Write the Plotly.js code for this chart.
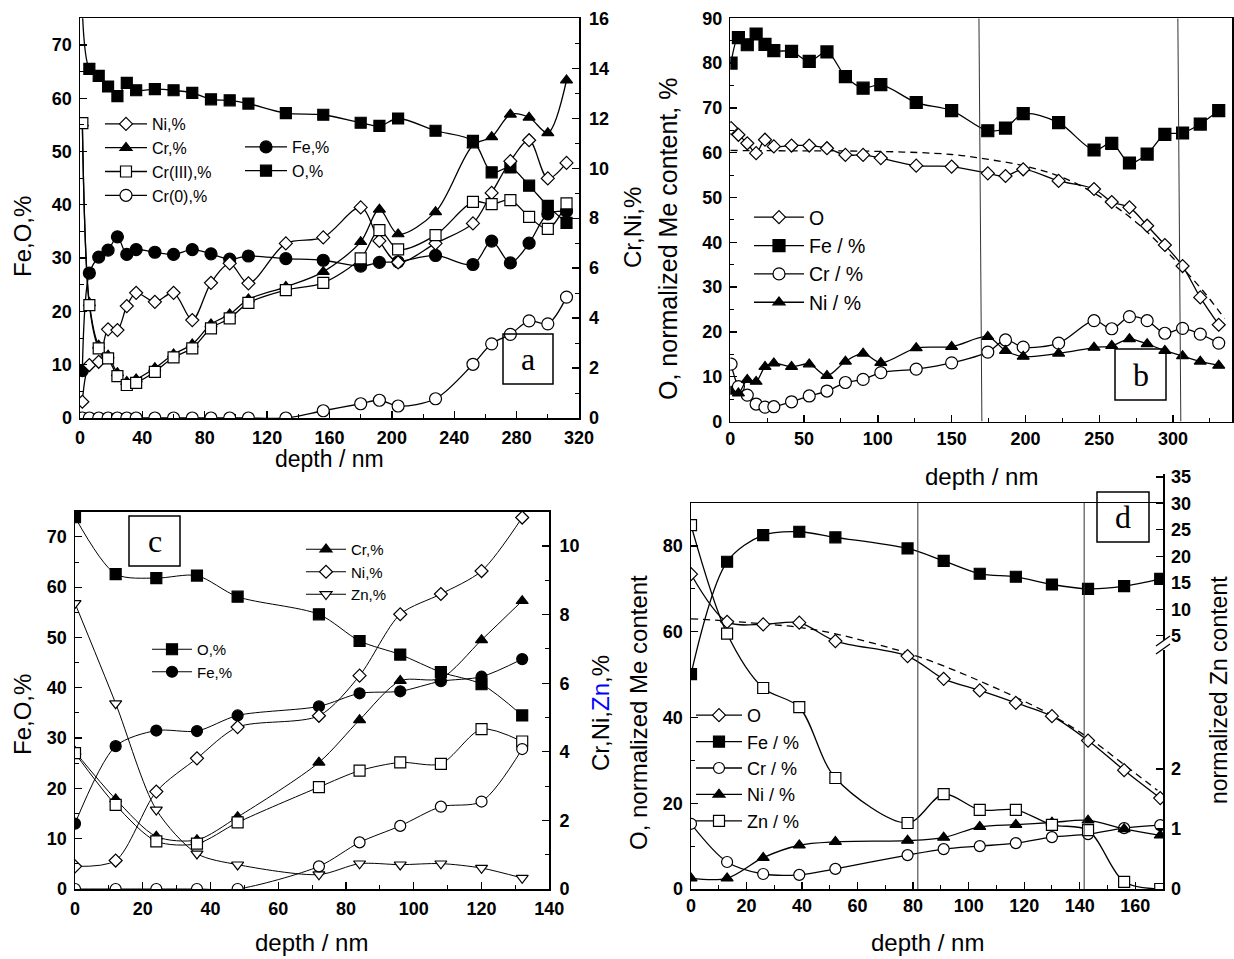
<!DOCTYPE html>
<html>
<head>
<meta charset="utf-8">
<script src="https://cdn.plot.ly/plotly-3.0.1.min.js"></script>
<style>html,body{margin:0;padding:0;background:#fff;}#chart{width:1234px;height:959px;}</style>
</head>
<body>
<div id="chart"></div>
<script>
// ---------- Panel a ----------
const aDepth = [1.5, 6, 12, 18, 24, 30, 36, 48, 60, 72, 84, 96, 108, 132, 156, 180, 192, 204, 228, 252, 264, 276, 288, 300, 312];
const aO     = [76.5, 65.5, 64.2, 62.2, 60.4, 62.9, 61.5, 61.7, 61.5, 61.0, 59.8, 59.6, 59.0, 57.2, 56.9, 55.4, 54.8, 56.2, 53.9, 52.0, 46.1, 47.0, 43.6, 39.8, 36.6];
const aFe    = [8.9, 27.2, 30.2, 31.5, 34.0, 30.7, 31.6, 31.1, 30.7, 31.6, 30.8, 29.8, 30.4, 29.9, 29.6, 28.5, 29.2, 29.3, 30.5, 28.8, 33.2, 29.1, 32.8, 38.3, 38.8];
const aNi    = [0.65, 2.12, 2.25, 3.55, 3.52, 4.48, 5.01, 4.65, 5.01, 3.92, 5.41, 6.19, 5.39, 6.99, 7.23, 8.43, 7.09, 6.23, 6.99, 7.79, 9.01, 10.28, 11.12, 9.59, 10.21];
const aCr    = [11.8, 4.6, 2.9, 2.5, 1.8, 1.45, 1.55, 2.0, 2.55, 2.95, 3.75, 4.15, 4.75, 5.25, 5.85, 7.05, 8.35, 7.36, 8.25, 10.92, 11.25, 12.15, 12.03, 11.41, 13.52];
const aCrIII = [11.8, 4.52, 2.79, 2.39, 1.68, 1.32, 1.41, 1.85, 2.43, 2.79, 3.59, 3.99, 4.61, 5.12, 5.41, 6.39, 7.52, 6.75, 7.32, 8.65, 8.56, 8.72, 8.05, 7.57, 8.59];
const aCr0   = [0, 0, 0, 0, 0, 0, 0, 0, 0, 0, 0, 0, 0, 0, 0.29, 0.57, 0.71, 0.48, 0.77, 2.15, 2.97, 3.35, 3.89, 3.77, 4.84];

// ---------- Panel b ----------
const bDepth = [0.5, 5.5, 11.5, 17.5, 23.5, 29.5, 41.5, 53.5, 65.5, 78, 90, 102, 126, 150, 174.5, 186.5, 198.5, 222.5, 246.5, 258.5, 270.5, 282.5, 294.5, 306.5, 318.5, 331];
const bO  = [65.5, 64.0, 62.1, 59.9, 62.9, 61.4, 61.6, 61.6, 61.0, 59.5, 59.5, 58.8, 57.1, 56.9, 55.4, 54.8, 56.3, 53.7, 51.9, 49.0, 47.8, 43.7, 39.4, 34.7, 27.7, 21.6];
const bFe = [80.0, 85.7, 84.1, 86.5, 84.2, 82.8, 82.6, 80.4, 82.5, 77.0, 74.4, 75.2, 71.2, 69.4, 64.9, 65.5, 68.7, 66.7, 60.6, 62.1, 57.7, 59.7, 64.1, 64.4, 66.4, 69.4];
const bCr = [12.8, 7.8, 5.9, 3.9, 3.2, 3.3, 4.4, 5.7, 6.8, 8.7, 9.4, 10.9, 11.7, 13.1, 15.5, 18.2, 16.6, 17.5, 22.5, 20.7, 23.4, 22.5, 19.7, 20.8, 19.5, 17.5];
const bNi = [6.7, 6.3, 9.3, 8.9, 12.2, 13.0, 12.2, 12.8, 10.2, 13.4, 15.2, 13.1, 16.4, 16.7, 18.9, 15.8, 14.5, 15.2, 16.5, 16.9, 18.4, 17.3, 15.8, 14.6, 13.4, 12.5];
const bFitDepth = [0, 50, 100, 150, 175, 200, 225, 250, 275, 300, 320, 335];
const bFitO     = [60.5, 60.4, 60.3, 59.6, 58.5, 57.0, 54.5, 50.3, 44.5, 36.5, 29.3, 23.0];
const bLines = [[168.5, 170.5], [303.3, 305.3]];

// ---------- Panel c ----------
const cDepth = [0, 12, 24, 36, 48, 72, 84, 96, 108, 120, 132];
const cO     = [73.9, 62.6, 61.8, 62.3, 58.1, 54.6, 49.3, 46.6, 43.1, 40.7, 34.5];
const cFe    = [13.0, 28.4, 31.5, 31.4, 34.5, 36.3, 38.9, 39.3, 41.3, 42.2, 45.7];
const cCr    = [4.0, 2.62, 1.53, 1.43, 2.10, 3.69, 4.93, 6.07, 6.14, 7.26, 8.40];
const cNi    = [0.66, 0.83, 2.84, 3.81, 4.72, 5.05, 6.22, 8.01, 8.60, 9.27, 10.83];
const cZn    = [8.33, 5.41, 2.31, 1.03, 0.71, 0.42, 0.74, 0.71, 0.74, 0.61, 0.32];
const cCrIII = [3.96, 2.45, 1.39, 1.32, 1.94, 2.97, 3.45, 3.69, 3.65, 4.66, 4.30];
const cCr0   = [0, 0, 0, 0, 0, 0.66, 1.36, 1.84, 2.40, 2.55, 4.08];

// ---------- Panel d ----------
const dDepth = [0, 13, 26, 39, 52, 78, 91, 104, 117, 130, 143, 156, 169];
const dO  = [73.4, 62.3, 61.7, 62.1, 57.8, 54.3, 49.0, 46.3, 43.4, 40.3, 34.6, 27.7, 21.2];
const dFe = [50.1, 76.3, 82.5, 83.3, 82.0, 79.4, 76.5, 73.5, 72.8, 71.0, 70.0, 70.6, 72.3];
const dCr = [15.2, 6.3, 3.5, 3.3, 4.7, 7.9, 9.3, 10.0, 10.7, 12.1, 12.8, 14.2, 14.9];
const dNi = [2.5, 2.5, 7.3, 10.2, 11.0, 11.3, 12.0, 14.5, 15.0, 15.5, 16.0, 14.0, 12.5];
const dZn = [25.9, 5.4, 3.35, 3.03, 1.85, 1.1, 1.58, 1.32, 1.32, 1.07, 0.98, 0.12, 0.0];
const dFitDepth = [0, 13, 26, 39, 52, 78, 91, 104, 117, 130, 143, 156, 168];
const dFitO     = [63, 62.5, 61.8, 61, 59.5, 55, 52, 48.5, 44.7, 40.5, 35.3, 29, 23];
const dLines = [81.7, 141.6];
const zTicks = [0, 1, 2, 5, 10, 15, 20, 25, 30, 35];

// broken Zn axis: lower segment linear 0..4.1, upper segment from 5 compressed
function zmap(v) {
  if (v <= 4.1) return v;
  if (v >= 5) return 4.22 + (v - 5) * 0.0883;
  return 4.1 + (v - 4.1) * (0.12 / 0.9);
}

const FONT = 'Liberation Sans, Arial, Helvetica, sans-serif';
const W = 1234, H = 959;
const px = v => v / W;
const py = v => 1 - v / H;

function tr(x, y, xa, ya, name, sym, filled, size, legend, show, extra) {
  return Object.assign({
    type: 'scatter', mode: 'lines+markers', x: x, y: y, xaxis: xa, yaxis: ya, name: name,
    legend: legend, showlegend: show,
    line: {color: '#000', width: 1.3, shape: 'spline', smoothing: 0.9},
    marker: {symbol: sym, size: size, color: filled ? '#000' : '#fff', line: {color: '#000', width: 1.2}},
    hoverinfo: 'skip'
  }, extra || {});
}
const thin = {line: {color: '#000', width: 1, shape: 'spline', smoothing: 0.8}};

const traces = [
  // panel a, left axis
  tr(aDepth, aFe, 'x', 'y', 'Fe,%', 'circle', true, 12, 'legend2', true),
  tr(aDepth, aO, 'x', 'y', 'O,%', 'square', true, 11, 'legend2', true),
  // panel a, right axis
  tr(aDepth, aNi, 'x', 'y2', 'Ni,%', 'diamond', false, 10, 'legend', true),
  tr(aDepth, aCr, 'x', 'y2', 'Cr,%', 'triangle-up', true, 10.5, 'legend', true),
  tr(aDepth, aCrIII, 'x', 'y2', 'Cr(III),%', 'square', false, 11, 'legend', true),
  tr(aDepth, aCr0, 'x', 'y2', 'Cr(0),%', 'circle', false, 12, 'legend', true),
  // panel b
  tr(bFitDepth, bFitO, 'x2', 'y3', 'fit', 'circle', false, 1, 'legend3', false,
     {mode: 'lines', line: {color: '#000', width: 1.3, dash: '7px,5px', shape: 'spline', smoothing: 1}}),
  tr(bDepth, bO, 'x2', 'y3', 'O', 'diamond', false, 10, 'legend3', true),
  tr(bDepth, bFe, 'x2', 'y3', 'Fe / %', 'square', true, 12, 'legend3', true),
  tr(bDepth, bCr, 'x2', 'y3', 'Cr / %', 'circle', false, 12, 'legend3', true),
  tr(bDepth, bNi, 'x2', 'y3', 'Ni / %', 'triangle-up', true, 10.5, 'legend3', true),
  // panel c, left axis
  tr(cDepth, cO, 'x3', 'y4', 'O,%', 'square', true, 11, 'legend5', true, thin),
  tr(cDepth, cFe, 'x3', 'y4', 'Fe,%', 'circle', true, 11, 'legend5', true, thin),
  // panel c, right axis
  tr(cDepth, cCr, 'x3', 'y5', 'Cr,%', 'triangle-up', true, 10.5, 'legend4', true, thin),
  tr(cDepth, cNi, 'x3', 'y5', 'Ni,%', 'diamond', false, 10, 'legend4', true, thin),
  tr(cDepth, cZn, 'x3', 'y5', 'Zn,%', 'triangle-down', false, 10.5, 'legend4', true, thin),
  tr(cDepth, cCrIII, 'x3', 'y5', 'Cr(III)', 'square', false, 11, 'legend4', false, thin),
  tr(cDepth, cCr0, 'x3', 'y5', 'Cr(0)', 'circle', false, 11, 'legend4', false, thin),
  // panel d
  tr(dFitDepth, dFitO, 'x4', 'y6', 'fit', 'circle', false, 1, 'legend6', false,
     {mode: 'lines', line: {color: '#000', width: 1.3, dash: '7px,5px', shape: 'spline', smoothing: 1}}),
  tr(dDepth, dO, 'x4', 'y6', 'O', 'diamond', false, 10, 'legend6', true),
  tr(dDepth, dFe, 'x4', 'y6', 'Fe / %', 'square', true, 11, 'legend6', true),
  tr(dDepth, dCr, 'x4', 'y6', 'Cr / %', 'circle', false, 11, 'legend6', true),
  tr(dDepth, dNi, 'x4', 'y6', 'Ni / %', 'triangle-up', true, 10.5, 'legend6', true),
  tr(dDepth, dZn.map(zmap), 'x4', 'y7', 'Zn / %', 'square', false, 11, 'legend6', true)
];

const tickFont = {family: FONT, size: 18, color: '#000', weight: 'bold'};
function ax(extra) {
  return Object.assign({
    showline: true, linecolor: '#000', linewidth: 1.5, mirror: true,
    ticks: 'inside', ticklen: 7, tickwidth: 1.3, tickcolor: '#000',
    showgrid: false, zeroline: false, tickfont: tickFont, ticklabelstandoff: 3,
    fixedrange: true
  }, extra);
}
function minor(d) { return {dtick: d, ticks: 'inside', ticklen: 4, tickwidth: 1, tickcolor: '#000', showgrid: false}; }

function leg(x, y, size, iw) {
  return {x: px(x), y: py(y), xanchor: 'left', yanchor: 'top', xref: 'paper', yref: 'paper',
          font: {family: FONT, size: size, color: '#000'}, itemwidth: iw, bgcolor: 'rgba(0,0,0,0)',
          borderwidth: 0, tracegroupgap: 0, traceorder: 'normal'};
}

function title(text, x, y, angle, size) {
  return {text: text, x: px(x), y: py(y), xref: 'paper', yref: 'paper', showarrow: false,
          textangle: angle, font: {family: FONT, size: size || 24, color: '#000'},
          xanchor: 'center', yanchor: 'middle'};
}
function boxLabel(t, x0, y0, x1, y1) {
  return {text: t, x: px((x0 + x1) / 2), y: py((y0 + y1) / 2), xref: 'paper', yref: 'paper', showarrow: false,
          font: {family: 'Liberation Serif, Times New Roman, serif', size: 32, color: '#000'},
          xanchor: 'center', yanchor: 'middle'};
}
function boxShape(x0, y0, x1, y1) {
  return {type: 'rect', xref: 'paper', yref: 'paper', x0: px(x0), x1: px(x1), y0: py(y1), y1: py(y0),
          line: {color: '#000', width: 1.5}, fillcolor: 'rgba(255,255,255,0)'};
}

const boxes = {a: [503, 334, 553, 384], b: [1115, 349, 1166, 400], c: [129, 516, 180, 566], d: [1097, 492, 1149, 542]};

const shapes = [];
const annotations = [];
for (const k of Object.keys(boxes)) {
  const b = boxes[k];
  shapes.push(boxShape(b[0], b[1], b[2], b[3]));
  annotations.push(boxLabel(k, b[0], b[1], b[2], b[3]));
}
bLines.forEach(l => shapes.push({type: 'line', xref: 'x2', yref: 'y3', x0: l[0], x1: l[1], y0: 90, y1: 0, line: {color: '#333', width: 1}}));
dLines.forEach(l => shapes.push({type: 'line', xref: 'x4', yref: 'y6', x0: l, x1: l, y0: 90, y1: 0, line: {color: '#333', width: 1}}));
// axis break marks on the Zn axis
shapes.push({type: 'rect', xref: 'paper', yref: 'paper', x0: px(1158), x1: px(1168), y0: py(650), y1: py(640), line: {width: 0}, fillcolor: '#fff'});
shapes.push({type: 'line', xref: 'paper', yref: 'paper', x0: px(1156), x1: px(1170), y0: py(646), y1: py(636), line: {color: '#000', width: 1.3}});
shapes.push({type: 'line', xref: 'paper', yref: 'paper', x0: px(1156), x1: px(1170), y0: py(654), y1: py(644), line: {color: '#000', width: 1.3}});

annotations.push(
  title('Fe,O,%', 22, 237, -90),
  title('Cr,Ni,%', 633, 228, -90),
  title('O, normalized Me content, %', 668, 239, -90, 25),
  title('depth / nm', 330, 459, 0, 23),
  title('depth / nm', 981, 477, 0),
  title('Fe,O,%', 22, 715, -90),
  title('Cr,Ni,<span style="color:#0000ff">Zn</span>,%', 600, 713, -90),
  title('depth / nm', 312, 942, 0),
  title('O, normalized Me content', 638, 713, -90),
  title('normalized Zn content', 1219, 690, -90, 23),
  title('depth / nm', 927, 942, 0)
);

const layout = {
  width: W, height: H, margin: {l: 0, r: 0, t: 0, b: 0},
  paper_bgcolor: '#fff', plot_bgcolor: 'rgba(0,0,0,0)',
  font: {family: FONT, color: '#000'},
  showlegend: true,
  // panel a
  xaxis: ax({domain: [px(80), px(579)], range: [0, 320], tick0: 0, dtick: 40, minor: minor(20), anchor: 'y', ticklabelstandoff: 3}),
  yaxis: ax({domain: [py(418), py(18.3)], range: [0, 75], tick0: 0, dtick: 10, minor: minor(5), anchor: 'x'}),
  yaxis2: ax({overlaying: 'y', side: 'right', anchor: 'x', range: [0, 16], tick0: 0, dtick: 2, minor: minor(1), mirror: false, ticklabelstandoff: 5}),
  // panel b
  xaxis2: ax({domain: [px(730.3), px(1232)], range: [0, 340], tick0: 0, dtick: 50, minor: minor(25), anchor: 'y3', ticklabelstandoff: 0}),
  yaxis3: ax({domain: [py(421.5), py(18.3)], range: [0, 90], tick0: 0, dtick: 10, minor: minor(5), anchor: 'x2'}),
  // panel c
  xaxis3: ax({domain: [px(75), px(549.3)], range: [0, 140], tick0: 0, dtick: 20, minor: minor(10), anchor: 'y4', ticklabelstandoff: 3}),
  yaxis4: ax({domain: [py(889), py(511.7)], range: [0, 75], tick0: 0, dtick: 10, minor: minor(5), anchor: 'x3'}),
  yaxis5: ax({overlaying: 'y4', side: 'right', anchor: 'x3', range: [0, 11], tick0: 0, dtick: 2, minor: minor(1), mirror: false, ticklabelstandoff: 5}),
  // panel d
  xaxis4: ax({domain: [px(691), px(1163)], range: [0, 170], tick0: 0, dtick: 20, minor: minor(10), anchor: 'y6', ticklabelstandoff: 0}),
  yaxis6: ax({domain: [py(889), py(503)], range: [0, 90], tick0: 0, dtick: 20, minor: minor(10), anchor: 'x4'}),
  yaxis7: ax({domain: [py(889), py(474)], range: [0, (889 - 474) / 60], side: 'right', anchor: 'x4', mirror: false,
              tickmode: 'array', tickvals: zTicks.map(zmap), ticktext: zTicks.map(String)}),
  legend:  leg(100, 107, 16, 42),
  legend2: leg(240, 130, 16, 42),
  legend3: leg(749, 198, 19.5, 50),
  legend4: leg(301, 533, 15, 40),
  legend5: leg(147, 633, 15, 40),
  legend6: leg(691, 697, 18, 46),
  shapes: shapes,
  annotations: annotations
};

Plotly.newPlot('chart', traces, layout, {staticPlot: true, displayModeBar: false});
</script>
</body>
</html>
